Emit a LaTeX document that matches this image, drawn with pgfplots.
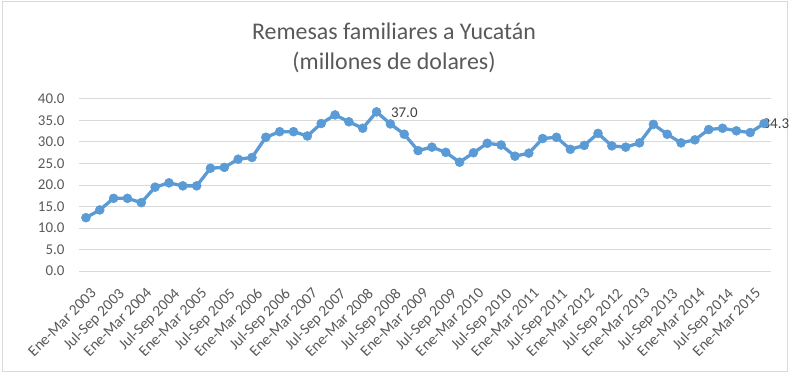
\documentclass[border=0pt]{standalone}
\usepackage{pgfplots}
\pgfplotsset{compat=1.18}
\usepackage{fontspec}
\setmainfont{Carlito}
\definecolor{lineblue}{HTML}{5B9BD5}
\definecolor{gridgray}{HTML}{D9D9D9}
\definecolor{txtgray}{HTML}{595959}
\definecolor{lblgray}{HTML}{404040}
\begin{document}
\begin{tikzpicture}[x=1bp,y=1bp]
\useasboundingbox (0,0) rectangle (800,376);
\draw[gridgray, line width=1bp] (2.5,4.5) rectangle (787,374.5);
\node[txtgray, font=\fontsize{24}{30}\selectfont, align=center] at (394,328) {Remesas familiares a Yucatán\\(millones de dolares)};
\begin{axis}[
  at={(79bp,105bp)}, anchor=south west,
  scale only axis, width=692bp, height=172bp,
  xmin=-0.5, xmax=49.5, ymin=0, ymax=40,
  ytick={0,5,...,40},
  xtick={0,2,...,48},
  xticklabels={Ene-Mar 2003,Jul-Sep 2003,Ene-Mar 2004,Jul-Sep 2004,Ene-Mar 2005,Jul-Sep 2005,Ene-Mar 2006,Jul-Sep 2006,Ene-Mar 2007,Jul-Sep 2007,Ene-Mar 2008,Jul-Sep 2008,Ene-Mar 2009,Jul-Sep 2009,Ene-Mar 2010,Jul-Sep 2010,Ene-Mar 2011,Jul-Sep 2011,Ene-Mar 2012,Jul-Sep 2012,Ene-Mar 2013,Jul-Sep 2013,Ene-Mar 2014,Jul-Sep 2014,Ene-Mar 2015},
  axis line style={draw=none},
  tick style={draw=none},
  ymajorgrids, grid style={gridgray, line width=1bp},
  /pgf/number format/assume math mode=true,
  /pgf/number format/.cd, fixed, fixed zerofill, precision=1, /pgfplots/.cd,
  yticklabel style={txtgray, font=\fontsize{15}{18}\selectfont, xshift=-11bp},
  xticklabel style={txtgray, font=\fontsize{15.5}{18}\selectfont, xshift=4bp, yshift=-16bp, rotate=45, anchor=north east, inner sep=0pt},
  clip=false,
]
\addplot[lineblue, line width=3.3bp, mark=*, mark size=4.5bp, mark options={fill=lineblue, draw=lineblue, line width=0.5bp}] coordinates {
(0,12.4)(1,14.2)(2,16.9)(3,16.9)(4,15.9)(5,19.5)(6,20.5)(7,19.8)(8,19.8)(9,23.9)
(10,24.1)(11,26.0)(12,26.4)(13,31.1)(14,32.4)(15,32.4)(16,31.4)(17,34.3)(18,36.3)(19,34.7)
(20,33.2)(21,37.0)(22,34.2)(23,31.8)(24,28.0)(25,28.8)(26,27.6)(27,25.3)(28,27.5)(29,29.7)
(30,29.3)(31,26.7)(32,27.4)(33,30.8)(34,31.1)(35,28.3)(36,29.2)(37,32.0)(38,29.1)(39,28.8)
(40,29.8)(41,34.1)(42,31.8)(43,29.8)(44,30.5)(45,32.9)(46,33.2)(47,32.6)(48,32.2)(49,34.3)
};
\node[lblgray, font=\fontsize{15}{18}\selectfont, anchor=west, xshift=11bp, yshift=-1bp] at (axis cs:21,37.0) {37.0};
\node[lblgray, font=\fontsize{15}{18}\selectfont, anchor=west, xshift=-5bp] at (axis cs:49,34.3) {34.3};
\end{axis}
\end{tikzpicture}
\end{document}
